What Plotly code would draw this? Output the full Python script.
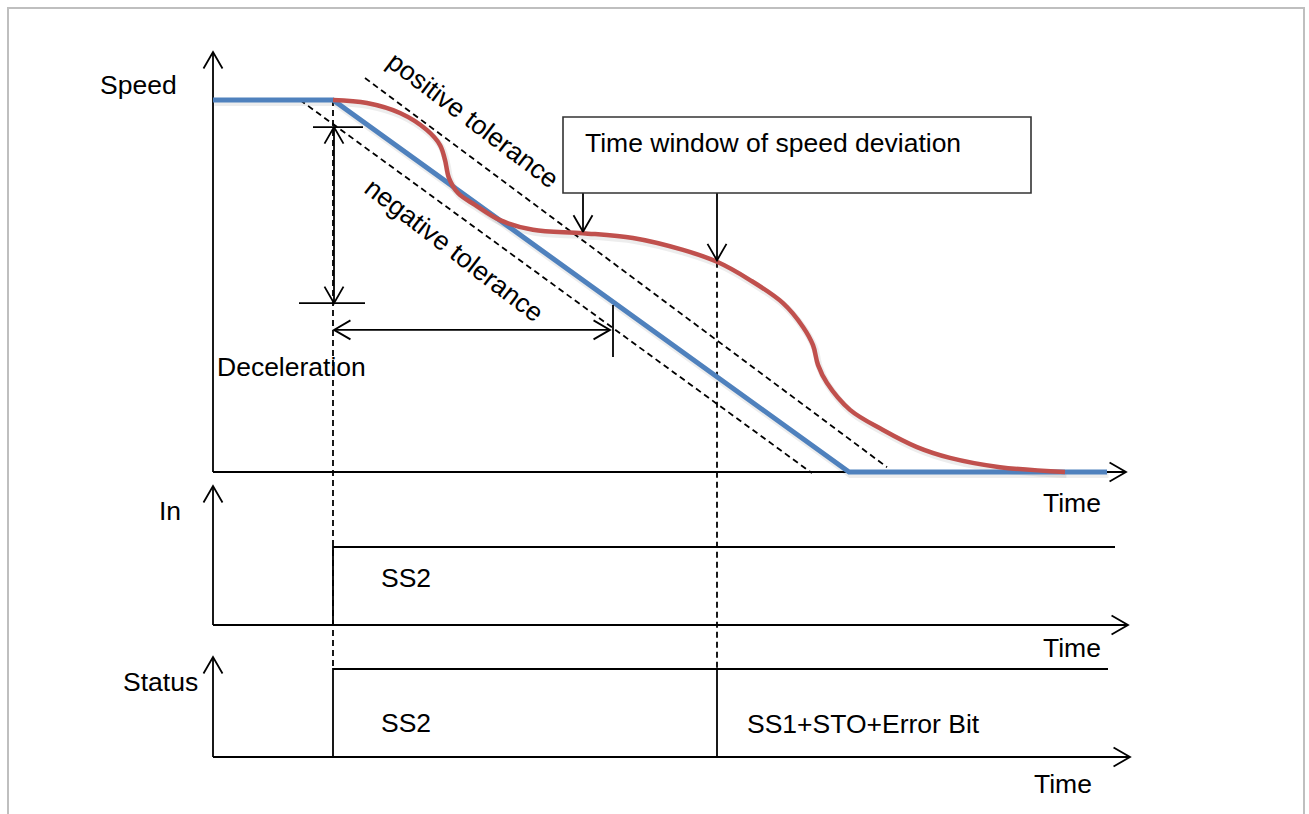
import numpy as np
import plotly.graph_objects as go

# ------------------------------------------------------------------ data
# commanded (monitored) speed ramp: time units / speed in % of start speed
time_cmd = [0, 120, 636, 894]
speed_cmd = [100, 100, 0, 0]

# actual speed (red curve)
time_actual = [120, 154, 187, 214, 227, 232, 236, 245, 262, 287,
               320, 370, 420, 470, 504, 537, 570, 590, 600, 605,
               614, 637, 670, 704, 737, 787, 852]
speed_actual = [100, 99.2, 96.5, 91.9, 87.9, 83.9, 79.0, 75.0, 71.8, 67.7,
                65.1, 64.2, 62.9, 59.7, 56.5, 51.6, 45.4, 39.0, 34.1, 28.8,
                23.9, 16.7, 11.3, 6.7, 3.8, 1.3, 0]

# tolerance band (dashed)
time_pos_tol = [152, 674]
speed_pos_tol = [105.9, 1.3]
time_neg_tol = [87, 599]
speed_neg_tol = [100, -0.3]

# key instants
t_decel_start = 120
t_window_start = 370
t_window_end = 504
t_decel_ref = 400

# deceleration dimension (speed units)
speed_dim_top = 92.7
speed_dim_bottom = 45.4
speed_dim_horizontal = 38.2
speed_ref_tick = [44.9, 30.9]

# digital signals
in_time = [120, 120, 902]
in_level = [0, 1, 1]
status_time = [120, 120, 895]
status_level = [0, 1, 1]
status_change_t = 504

# texts
axis_labels = ["Speed", "In", "Status"]
time_label = "Time"
in_state = "SS2"
status_states = ["SS2", "SS1+STO+Error Bit"]
window_text = "Time window of speed deviation"
tol_labels = ["positive tolerance", "negative tolerance"]
decel_label = "Deceleration"

# ------------------------------------------------------------------ layout geometry
W, H = 1309, 814
X_ORIGIN_PX, X_PPU = 213.0, 1.0
PANELS = {"y": (472.0, 3.72), "y2": (625.0, 78.0), "y3": (757.0, 88.0)}

BLUE = "#4F81BD"
RED = "#C0504D"
FONT = dict(family="Liberation Sans, Arial, sans-serif", size=26.5, color="black")
LW = 1.8
DASH = "6px,4px"


def x2px(t):
    return X_ORIGIN_PX + t * X_PPU


def px2x(px):
    return (px - X_ORIGIN_PX) / X_PPU


def y2px(v, ax="y"):
    b, p = PANELS[ax]
    return b - v * p


def px2y(py, ax="y"):
    b, p = PANELS[ax]
    return (b - py) / p


fig = go.Figure()


def seg(xs, ys, ax="y", color="black", width=LW, dash=None, shape="linear", smoothing=None):
    line = dict(color=color, width=width, shape=shape)
    if dash:
        line["dash"] = dash
    if smoothing is not None:
        line["smoothing"] = smoothing
    fig.add_trace(go.Scatter(x=list(xs), y=list(ys), yaxis=ax, mode="lines", line=line,
                             hoverinfo="skip", showlegend=False))


def arrowhead(t, v, dx, dy, ax="y", L=19, half=30):
    tx, ty = x2px(t), y2px(v, ax)
    n = np.hypot(dx, dy)
    ux, uy = dx / n, dy / n
    pts = []
    for s in (1, -1):
        a = np.radians(half * s)
        rx = ux * np.cos(a) - uy * np.sin(a)
        ry = ux * np.sin(a) + uy * np.cos(a)
        pts.append((tx - L * rx, ty - L * ry))
    px_x = [pts[0][0], tx, pts[1][0]]
    px_y = [pts[0][1], ty, pts[1][1]]
    seg([px2x(p) for p in px_x], [px2y(p, ax) for p in px_y], ax=ax)


def label(text, px, py, anchor="left", angle=0, size=None):
    f = dict(FONT)
    if size:
        f["size"] = size
    fig.add_annotation(text=text, x=px / W, y=1 - py / H, xref="paper", yref="paper",
                       xanchor=anchor, yanchor="middle", showarrow=False, font=f,
                       textangle=angle)


# ------------------------------------------------------------------ axes (with arrows)
AXIS_TOP_PX = {"y": 52, "y2": 486, "y3": 657}
AXIS_RIGHT_PX = {"y": 1126, "y2": 1128, "y3": 1130}
for ax in ("y", "y2", "y3"):
    top = px2y(AXIS_TOP_PX[ax], ax)
    right = px2x(AXIS_RIGHT_PX[ax])
    seg([0, 0], [0, top], ax=ax)
    arrowhead(0, top, 0, -1, ax=ax)
    seg([0, right], [0, 0], ax=ax)
    arrowhead(right, 0, 1, 0, ax=ax)

# ------------------------------------------------------------------ vertical dashed guides
status_high_in_speed = px2y(y2px(1, "y3"), "y")
seg([t_decel_start, t_decel_start], [100, status_high_in_speed], dash=DASH)
red_at_end = float(np.interp(t_window_end, time_actual, speed_actual))
seg([t_window_end, t_window_end], [red_at_end, status_high_in_speed], dash=DASH)

# tolerance lines
seg(time_pos_tol, speed_pos_tol, dash=DASH)
seg(time_neg_tol, speed_neg_tol, dash=DASH)

# ------------------------------------------------------------------ speed curves (with soft shadow)
sh_dx, sh_dy = 1.5 / X_PPU, -2.5 / PANELS["y"][1]
seg([t + sh_dx for t in time_cmd], [v + sh_dy for v in speed_cmd], color="rgba(0,0,0,0.07)", width=7)
seg([t + sh_dx for t in time_actual], [v + sh_dy for v in speed_actual],
    color="rgba(0,0,0,0.07)", width=7, shape="spline", smoothing=1.0)
seg(time_cmd, speed_cmd, color=BLUE, width=5)
seg(time_actual, speed_actual, color=RED, width=4.5, shape="spline", smoothing=1.0)

# ------------------------------------------------------------------ deceleration dimension
seg([t_decel_start + 1, t_decel_start + 1], [speed_dim_top, speed_dim_bottom])
arrowhead(t_decel_start + 1, speed_dim_top, 0, -1)
arrowhead(t_decel_start + 1, speed_dim_bottom, 0, 1)
seg([t_decel_start - 20, t_decel_start + 30], [speed_dim_top, speed_dim_top])
seg([t_decel_start - 34, t_decel_start + 32], [speed_dim_bottom, speed_dim_bottom])
seg([t_decel_start + 1, t_decel_ref - 3], [speed_dim_horizontal, speed_dim_horizontal])
arrowhead(t_decel_start + 1, speed_dim_horizontal, -1, 0)
arrowhead(t_decel_ref - 3, speed_dim_horizontal, 1, 0)
seg([t_decel_ref, t_decel_ref], speed_ref_tick)

# ------------------------------------------------------------------ time window box + arrows
BOX = (563, 117, 1031, 193)
fig.add_shape(type="rect", xref="paper", yref="paper",
              x0=BOX[0] / W, x1=BOX[2] / W, y0=1 - BOX[3] / H, y1=1 - BOX[1] / H,
              line=dict(color="#333333", width=1.6), fillcolor="white", layer="above")
box_bottom = px2y(BOX[3])
for tw in (t_window_start, t_window_end):
    tip = float(np.interp(tw, time_actual, speed_actual)) + 0.4
    seg([tw, tw], [box_bottom, tip])
    arrowhead(tw, tip, 0, 1)

# ------------------------------------------------------------------ digital signals
seg(in_time, in_level, ax="y2")
seg(status_time, status_level, ax="y3")
seg([status_change_t, status_change_t], [0, 1], ax="y3")

# ------------------------------------------------------------------ outer frame
fig.add_shape(type="path", xref="paper", yref="paper",
              path=f"M {8 / W},{-0.01} L {8 / W},{1 - 8 / H} L {1304 / W},{1 - 8 / H} L {1304 / W},{-0.01}",
              line=dict(color="#BFBFBF", width=2), layer="below")

# ------------------------------------------------------------------ texts
label(axis_labels[0], 98, 85)
label(axis_labels[1], 157, 511)
label(axis_labels[2], 121, 682)
label(time_label, 1041, 503)
label(time_label, 1041, 648)
label(time_label, 1032, 784)
label(in_state, 379, 578)
label(status_states[0], 379, 723)
label(status_states[1], 745, 724)
label(window_text, 583, 143)
label(decel_label, 215, 367)
label(tol_labels[0], 473, 120, anchor="center", angle=37)
label(tol_labels[1], 454, 250, anchor="center", angle=37.5)

# ------------------------------------------------------------------ layout
layout_axes = {}
for ax in ("y", "y2", "y3"):
    key = "yaxis" if ax == "y" else "yaxis" + ax[1:]
    d = dict(range=[px2y(H, ax), px2y(0, ax)], visible=False, fixedrange=True, domain=[0, 1])
    if ax != "y":
        d["overlaying"] = "y"
    layout_axes[key] = d

fig.update_layout(
    width=W, height=H, autosize=False,
    margin=dict(l=0, r=0, t=0, b=0, pad=0),
    paper_bgcolor="white", plot_bgcolor="white",
    xaxis=dict(range=[px2x(0), px2x(W)], visible=False, fixedrange=True, domain=[0, 1]),
    showlegend=False,
    **layout_axes,
)

fig.write_html("out.html", include_plotlyjs=True, full_html=True,
               config={"displayModeBar": False, "staticPlot": True},
               post_script="document.body.style.margin='0';document.body.style.overflow='hidden';")
